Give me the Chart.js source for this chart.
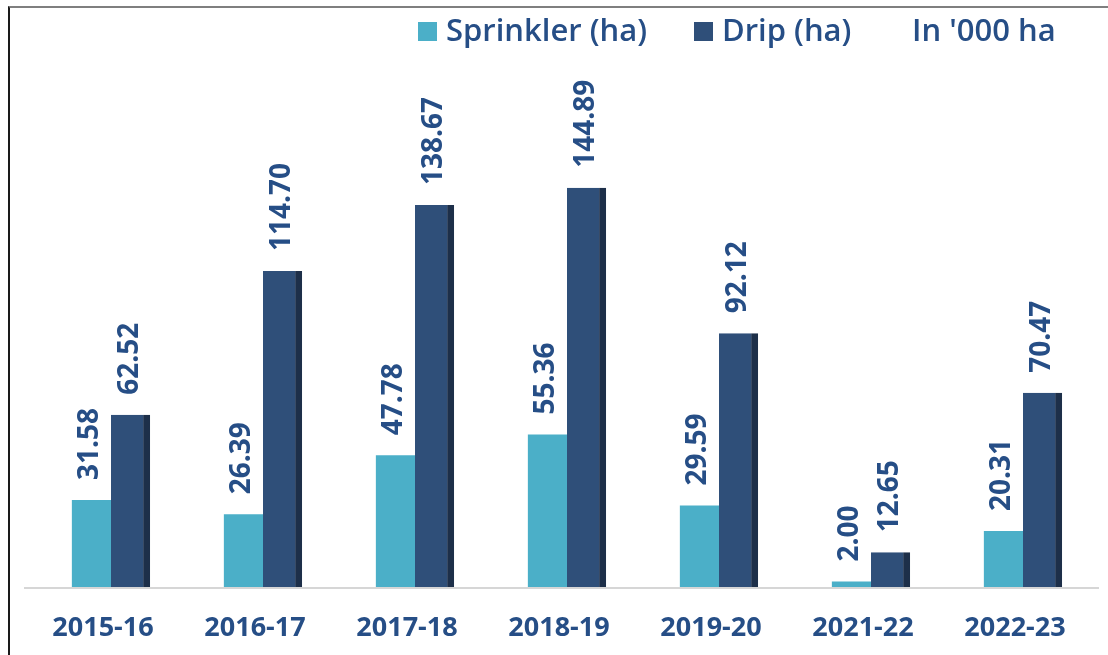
<!DOCTYPE html>
<html>
<head>
<meta charset="utf-8">
<script src="https://cdn.jsdelivr.net/npm/chart.js@4.4.0/dist/chart.umd.min.js"></script>
<style>
  html, body { margin: 0; padding: 0; background: #ffffff; }
  #wrap { position: relative; width: 1108px; height: 655px; }
  #frame { position: absolute; left: 8px; top: 6px; right: 0; bottom: 0;
           border-top: 2px solid #7f7f7f; border-left: 2px solid #1a1a1a; pointer-events: none; }
</style>
</head>
<body>
<div id="wrap">
  <canvas id="c" width="1108" height="655"></canvas>
  <div id="frame"></div>
</div>
<script>
const categories = ['2015-16', '2016-17', '2017-18', '2018-19', '2019-20', '2021-22', '2022-23'];
const sprinklerValues = [31.58, 26.39, 47.78, 55.36, 29.59, 2.00, 20.31];
const dripValues = [62.52, 114.70, 138.67, 144.89, 92.12, 12.65, 70.47];
const seriesNames = ['Sprinkler (ha)', 'Drip (ha)'];
const unitNote = "In '000 ha";

const TEXT = '#264e86';
const C_SPR = '#4bafc8';
const C_DRIP = '#2f4f79';
const C_EDGE = '#1d2f49';

const valueLabels = {
  id: 'valueLabels',
  afterDatasetsDraw(chart) {
    const ctx = chart.ctx;
    ctx.save();
    ctx.fillStyle = TEXT;
    ctx.font = 'bold 28px "Open Sans"';
    ctx.textAlign = 'left';
    ctx.textBaseline = 'middle';
    chart.data.datasets.forEach((ds, di) => {
      const meta = chart.getDatasetMeta(di);
      meta.data.forEach((bar, i) => {
        const v = ds.data[i];
        ctx.save();
        ctx.translate(bar.x - 1, bar.y - 20);
        ctx.rotate(-Math.PI / 2);
        ctx.fillText(v.toFixed(2), 0, 0);
        ctx.restore();
      });
    });
    ctx.restore();
  }
};

const baseLine = {
  id: 'baseLine',
  beforeDatasetsDraw(chart) {
    const ctx = chart.ctx;
    const y = chart.scales.y.getPixelForValue(0);
    ctx.save();
    ctx.strokeStyle = '#d6d6d6';
    ctx.lineWidth = 2;
    ctx.beginPath();
    ctx.moveTo(24, y + 1);
    ctx.lineTo(1099, y + 1);
    ctx.stroke();
    ctx.restore();
  }
};

const customLegend = {
  id: 'customLegend',
  afterDraw(chart) {
    const ctx = chart.ctx;
    ctx.save();
    ctx.font = '600 31px "Open Sans"';
    ctx.textBaseline = 'middle';
    ctx.textAlign = 'left';
    const y = 32;
    ctx.fillStyle = C_SPR;
    ctx.fillRect(418, 22, 19, 19);
    ctx.fillStyle = TEXT;
    ctx.fillText(seriesNames[0], 446, y);
    ctx.fillStyle = C_DRIP;
    ctx.fillRect(694, 22, 19, 19);
    ctx.fillStyle = TEXT;
    ctx.fillText(seriesNames[1], 722, y);
    ctx.fillText(unitNote, 912, y);
    ctx.restore();
  }
};

new Chart(document.getElementById('c'), {
  type: 'bar',
  data: {
    labels: categories,
    datasets: [
      {
        label: seriesNames[0],
        data: sprinklerValues,
        backgroundColor: C_SPR,
        borderWidth: 0,
        categoryPercentage: 0.515,
        barPercentage: 1.0
      },
      {
        label: seriesNames[1],
        data: dripValues,
        backgroundColor: C_DRIP,
        borderColor: C_EDGE,
        borderWidth: { top: 0, left: 0, bottom: 0, right: 7 },
        categoryPercentage: 0.515,
        barPercentage: 1.0
      }
    ]
  },
  options: {
    responsive: false,
    animation: false,
    layout: { padding: { top: 36, left: 35, right: 9, bottom: 0 } },
    plugins: {
      legend: { display: false },
      tooltip: { enabled: false },
      title: { display: false }
    },
    scales: {
      x: {
        grid: { display: false, drawTicks: false },
        border: { display: false },
        afterFit(scale) { scale.height = 68; },
        ticks: {
          color: TEXT,
          font: { family: '"Open Sans"', size: 27, weight: 'bold' },
          padding: 25,
          labelOffset: -8,
          maxRotation: 0,
          autoSkip: false
        }
      },
      y: {
        display: false,
        min: 0,
        max: 200
      }
    }
  },
  plugins: [baseLine, valueLabels, customLegend]
});
</script>
</body>
</html>
